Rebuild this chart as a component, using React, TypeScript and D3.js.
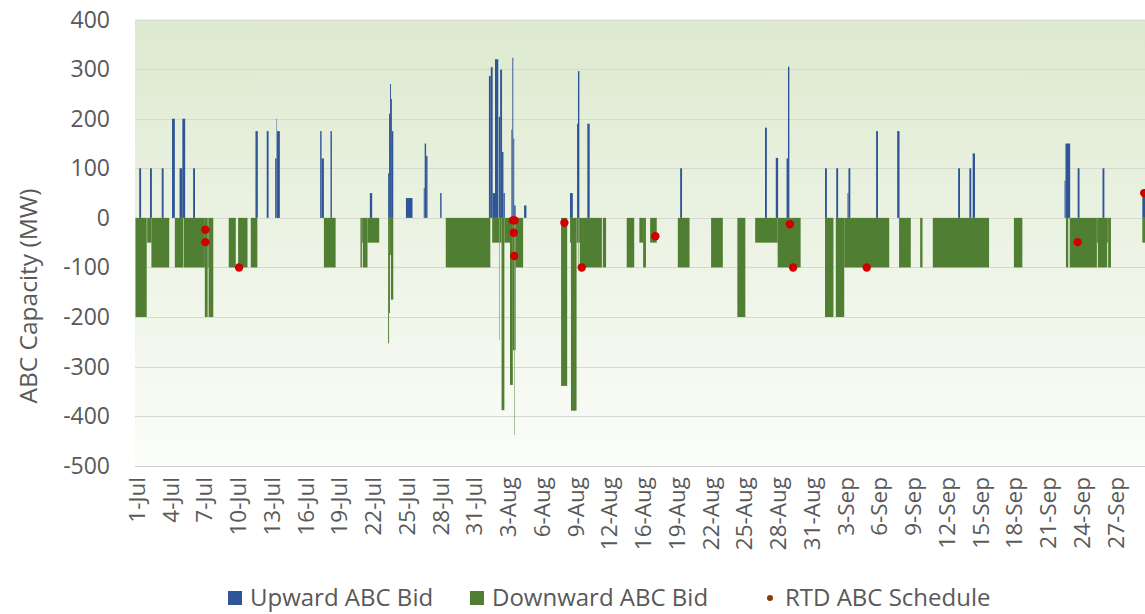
import * as d3 from "d3";
import { useEffect, useRef } from "react";

// x positions are hours counted from 1-Jul 00:00 (one slot per axis day, 90 slots)
const SLOTS_HOURS = 2160;
const LABEL_STEP_HOURS = 72;

const X_LABELS = [
    "1-Jul", "4-Jul", "7-Jul", "10-Jul", "13-Jul", "16-Jul", "19-Jul", "22-Jul", "25-Jul", "28-Jul", "31-Jul",
    "3-Aug", "6-Aug", "9-Aug", "12-Aug", "16-Aug", "19-Aug", "22-Aug", "25-Aug", "28-Aug", "31-Aug",
    "3-Sep", "6-Sep", "9-Sep", "12-Sep", "15-Sep", "18-Sep", "21-Sep", "24-Sep", "27-Sep",
];

const Y_TICKS = [400, 300, 200, 100, 0, -100, -200, -300, -400, -500];

// [start hour, end hour, MW]
const UP_BIDS: [number, number, number][] = [
    [9, 13, 100], [32, 36, 100], [57, 61, 100], [79, 85, 200], [95, 101, 100], [101, 107, 200],
    [124, 128, 100], [257, 262, 175], [281, 285, 175], [299, 302, 120], [302, 303, 200], [303, 309, 175],
    [395, 398, 175], [398, 403, 120], [417, 420, 175], [501, 506, 50],
    [540, 542, 90], [542, 544, 210], [544, 546, 270], [546, 548, 240], [548, 551, 175],
    [578, 592, 40], [616, 618, 60], [618, 621, 150], [621, 624, 125], [651, 654, 50],
    [755, 759, 286], [759, 763, 304], [763, 768, 50], [768, 775, 320], [776, 779, 204], [779, 783, 299],
    [783, 786, 133], [786, 789, 50], [803, 805, 178], [805, 807, 323], [807, 809, 160], [809, 812, 25],
    [830, 835, 25], [928, 934, 50], [943, 945, 190], [945, 948, 296], [965, 970, 190],
    [1163, 1167, 100], [1344, 1348, 182], [1367, 1372, 121], [1390, 1393, 120], [1393, 1396, 305],
    [1472, 1476, 100], [1496, 1500, 100], [1520, 1522, 50], [1522, 1526, 100], [1581, 1585, 175],
    [1626, 1631, 175], [1756, 1760, 100], [1780, 1784, 100], [1787, 1792, 130],
    [1983, 1985, 75], [1985, 1995, 150], [2011, 2015, 100], [2064, 2068, 100], [2149, 2160, 50],
];

const DOWN_BIDS: [number, number, number][] = [
    [1, 25, -200], [26, 35, -50], [35, 73, -100], [85, 103, -100], [104, 149, -100],
    [149, 155, -200], [155, 157, -100], [157, 167, -200],
    [200, 215, -100], [220, 240, -100], [247, 261, -100], [403, 428, -100],
    [481, 484, -100], [484, 486, -50], [486, 496, -100], [496, 521, -50],
    [540, 542, -253], [542, 544, -192], [544, 546, -75], [546, 551, -165],
    [663, 758, -100], [762, 777, -50], [777, 778, -247], [778, 782, -50], [782, 788, -388], [788, 800, -50],
    [800, 806, -337], [806, 809, -267], [809, 810, -438], [810, 812, -267], [812, 828, -100],
    [909, 922, -339], [928, 930, -50], [930, 942, -389], [942, 945, -50], [945, 946, -100], [946, 949, -50],
    [949, 996, -100], [998, 1005, -100], [1049, 1065, -100], [1076, 1084, -50], [1084, 1090, -100],
    [1099, 1113, -50], [1158, 1183, -100], [1229, 1254, -100], [1285, 1302, -200],
    [1323, 1371, -50], [1371, 1420, -100], [1472, 1490, -200], [1495, 1513, -200], [1513, 1609, -100],
    [1630, 1655, -100], [1675, 1680, -100], [1702, 1822, -100], [1875, 1893, -100],
    [1986, 1991, -100], [1994, 2052, -100], [2052, 2054, -50], [2054, 2074, -100], [2074, 2076, -50],
    [2076, 2082, -100], [2149, 2160, -50],
];

// [hour, MW]
const RTD_SCHEDULE: [number, number][] = [
    [150, -24], [150, -49], [222, -100], [806, -5], [810, -5], [808, -30], [809, -77], [916, -10],
    [953, -100], [1110, -37], [1397, -13], [1404, -100], [1561, -100], [2011, -49], [2153, 50],
];

const WIDTH = 1145;
const HEIGHT = 614;
const BLUE = "#2f5597";
const GREEN = "#507e32";
const RED = "#d00000";
const TEXT = "#595959";
const FONT = "'Open Sans', sans-serif";

export default function App() {
    const svgRef = useRef<SVGSVGElement | null>(null);

    useEffect(() => {
        if (!svgRef.current) return;
        const svg = d3.select(svgRef.current);
        svg.selectAll("*").remove();

        const x = d3.scaleLinear().domain([0, SLOTS_HOURS]).range([135, 1147.5]);
        const y = d3.scaleLinear().domain([-500, 400]).range([465.7, 19.6]);
        const [x0, x1] = x.range();

        const grad = svg
            .append("defs")
            .append("linearGradient")
            .attr("id", "plotBg")
            .attr("x1", 0)
            .attr("y1", 0)
            .attr("x2", 0)
            .attr("y2", 1);
        grad.append("stop").attr("offset", "0%").attr("stop-color", "#dde9cf");
        grad.append("stop").attr("offset", "100%").attr("stop-color", "#fbfdf9");

        svg.append("rect")
            .attr("x", x0)
            .attr("y", y(400))
            .attr("width", x1 - x0)
            .attr("height", y(-500) - y(400))
            .attr("fill", "url(#plotBg)");

        svg.append("g")
            .selectAll("line")
            .data(Y_TICKS)
            .enter()
            .append("line")
            .attr("x1", x0)
            .attr("x2", x1)
            .attr("y1", (d) => Math.round(y(d)) + 0.5)
            .attr("y2", (d) => Math.round(y(d)) + 0.5)
            .attr("stroke", (d) => (d === -500 ? "#cfcfcf" : "#d6d9d3"))
            .attr("stroke-width", 1);

        const drawBars = (data: [number, number, number][], color: string) =>
            svg.append("g")
                .selectAll("rect")
                .data(data)
                .enter()
                .append("rect")
                .attr("x", (d) => x(d[0]))
                .attr("width", (d) => x(d[1]) - x(d[0]))
                .attr("y", (d) => y(Math.max(0, d[2])))
                .attr("height", (d) => Math.abs(y(d[2]) - y(0)))
                .attr("fill", color);
        drawBars(DOWN_BIDS, GREEN);
        drawBars(UP_BIDS, BLUE);

        svg.append("g")
            .selectAll("circle")
            .data(RTD_SCHEDULE)
            .enter()
            .append("circle")
            .attr("cx", (d) => x(d[0]))
            .attr("cy", (d) => y(d[1]))
            .attr("r", 4.2)
            .attr("fill", RED);

        svg.append("g")
            .selectAll("text")
            .data(Y_TICKS)
            .enter()
            .append("text")
            .attr("x", 110)
            .attr("y", (d) => y(d))
            .attr("dy", "0.35em")
            .attr("text-anchor", "end")
            .attr("font-family", FONT)
            .attr("font-size", 23)
            .attr("fill", TEXT)
            .text((d) => d);

        svg.append("g")
            .selectAll("text")
            .data(X_LABELS)
            .enter()
            .append("text")
            .attr("transform", (_, i) => `translate(${x(i * LABEL_STEP_HOURS) + 2},477) rotate(-90)`)
            .attr("dy", "0.35em")
            .attr("text-anchor", "end")
            .attr("font-family", FONT)
            .attr("font-size", 22.5)
            .attr("fill", TEXT)
            .text((d) => d);

        svg.append("text")
            .attr("transform", "translate(28,296) rotate(-90)")
            .attr("dy", "0.35em")
            .attr("text-anchor", "middle")
            .attr("font-family", FONT)
            .attr("font-size", 24.5)
            .attr("fill", TEXT)
            .text("ABC Capacity (MW)");

        const legend = svg.append("g").attr("font-family", FONT).attr("font-size", 24).attr("fill", TEXT);
        const items = [
            { label: "Upward ABC Bid", color: BLUE, x: 228, kind: "square" },
            { label: "Downward ABC Bid", color: GREEN, x: 470, kind: "square" },
            { label: "RTD ABC Schedule", color: "#843c0c", x: 765, kind: "dot" },
        ];
        items.forEach((it) => {
            if (it.kind === "square") {
                legend.append("rect").attr("x", it.x).attr("y", 591).attr("width", 14).attr("height", 14).attr("fill", it.color);
            } else {
                legend.append("circle").attr("cx", it.x + 5).attr("cy", 598).attr("r", 3).attr("fill", it.color);
            }
            legend
                .append("text")
                .attr("x", it.x + (it.kind === "square" ? 22 : 20))
                .attr("y", 598)
                .attr("dy", "0.35em")
                .text(it.label);
        });
    }, []);

    return (
        <svg
            ref={svgRef}
            width={WIDTH}
            height={HEIGHT}
            style={{ position: "fixed", left: 0, top: 0, background: "#ffffff" }}
        />
    );
}
